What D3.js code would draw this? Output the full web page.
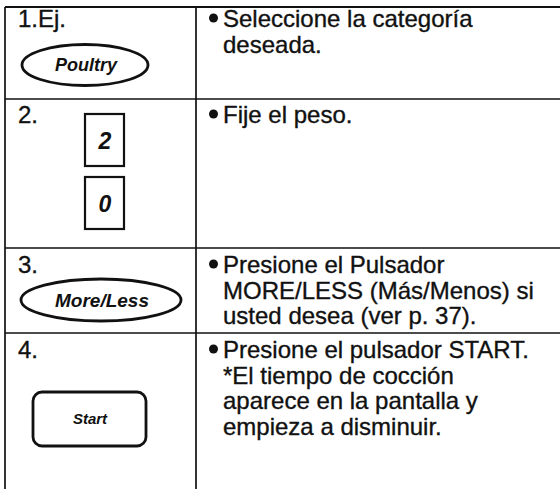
<!DOCTYPE html>
<html>
<head>
<meta charset="utf-8">
<script src="https://cdn.jsdelivr.net/npm/d3@7"></script>
<style>
html,body{margin:0;padding:0;background:#fff;}
svg{display:block;}
text{font-family:"Liberation Sans",Arial,Helvetica,sans-serif;fill:#111;}
</style>
</head>
<body>
<svg id="c" width="560" height="489"></svg>
<script>
// ---- content ----
const stepLabels = ["1.Ej.", "2.", "3.", "4."];
const buttonKinds = ["ellipse", "digits", "ellipse", "rounded"];
const buttonTexts = [["Poultry"], ["2", "0"], ["More/Less"], ["Start"]];
const instructionLines = [
  ["Seleccione la categoría", "deseada."],
  ["Fije el peso."],
  ["Presione el Pulsador", "MORE/LESS (Más/Menos) si", "usted desea (ver p. 37)."],
  ["Presione el pulsador START.", "*El tiempo de cocción", "aparece en la pantalla y", "empieza a disminuir."]
];
const bulletFlags = [
  [true, false],
  [true],
  [true, false, false],
  [true, false, false, false]
];
const rowEdges = [7, 99, 248, 333, 489];

// ---- drawing ----
const svg = d3.select("#c");
const W = 560, H = 489;
const xL = 5, xMid = 196, xR = 560;
const ink = "#111";
const fs = 24, lh = 25.5;
const firstBase = [20, 24, 25, 25];

// table lines
const g = svg.append("g");
g.append("line").attr("x1", xL).attr("x2", xR).attr("y1", rowEdges[0]).attr("y2", rowEdges[0])
  .attr("stroke", ink).attr("stroke-width", 2);
rowEdges.slice(1, 4).forEach(e => {
  g.append("line").attr("x1", xL).attr("x2", xR).attr("y1", e).attr("y2", e)
    .attr("stroke", ink).attr("stroke-width", 1.7);
});
[xL, xMid].forEach(x => {
  g.append("line").attr("x1", x).attr("x2", x).attr("y1", rowEdges[0]).attr("y2", H)
    .attr("stroke", ink).attr("stroke-width", 1.7);
});

const rows = stepLabels.map((l, i) => ({
  label: l, kind: buttonKinds[i], btn: buttonTexts[i], lines: instructionLines[i],
  bullets: bulletFlags[i], top: rowEdges[i], bottom: rowEdges[i + 1], base: firstBase[i]
}));

const rg = svg.selectAll("g.row").data(rows).join("g").attr("class", "row");

const heavy = s => s.attr("stroke", ink).attr("stroke-width", 0.35);

// step labels
heavy(rg.append("text").attr("x", 18).attr("y", d => d.top + d.base).text(d => d.label)
  .attr("font-size", fs));

// instruction text
rg.each(function(d) {
  const sel = d3.select(this);
  d.lines.forEach((t, j) => {
    const by = d.top + d.base + j * lh;
    if (d.bullets[j]) {
      sel.append("circle").attr("cx", 213.5).attr("cy", by - 9).attr("r", 4.5).attr("fill", ink);
    }
    heavy(sel.append("text").attr("x", 223).attr("y", by).attr("font-size", fs).text(t));
  });
});

// buttons
const btnStyle = s => s.attr("fill", "none").attr("stroke", ink).attr("stroke-width", 2.8);
const btnText = (sel, x, yy, t, size) => sel.append("text").attr("x", x).attr("y", yy)
  .attr("text-anchor", "middle").attr("font-weight", "bold").attr("font-style", "italic")
  .attr("font-size", size).text(t);

// row 1 ellipse
{
  const s = d3.select(rg.nodes()[0]);
  btnStyle(s.append("ellipse").attr("cx", 85).attr("cy", 65).attr("rx", 63).attr("ry", 20.5));
  btnText(s, 86, 71, rows[0].btn[0], 18);
}
// row 2 digits
{
  const s = d3.select(rg.nodes()[1]);
  const tops = [114, 177];
  rows[1].btn.forEach((t, k) => {
    s.append("rect").attr("x", 85).attr("y", tops[k]).attr("width", 39).attr("height", 52)
      .attr("fill", "none").attr("stroke", ink).attr("stroke-width", 2.2);
    btnText(s, 105, tops[k] + 35, t, 23);
  });
}
// row 3 ellipse
{
  const s = d3.select(rg.nodes()[2]);
  btnStyle(s.append("ellipse").attr("cx", 101).attr("cy", 300).attr("rx", 80).attr("ry", 21));
  btnText(s, 102, 307, rows[2].btn[0], 19);
}
// row 4 rounded rect
{
  const s = d3.select(rg.nodes()[3]);
  btnStyle(s.append("rect").attr("x", 33).attr("y", 392).attr("width", 113).attr("height", 54)
    .attr("rx", 9).attr("ry", 9));
  btnText(s, 90, 424, rows[3].btn[0], 15);
}
</script>
</body>
</html>
